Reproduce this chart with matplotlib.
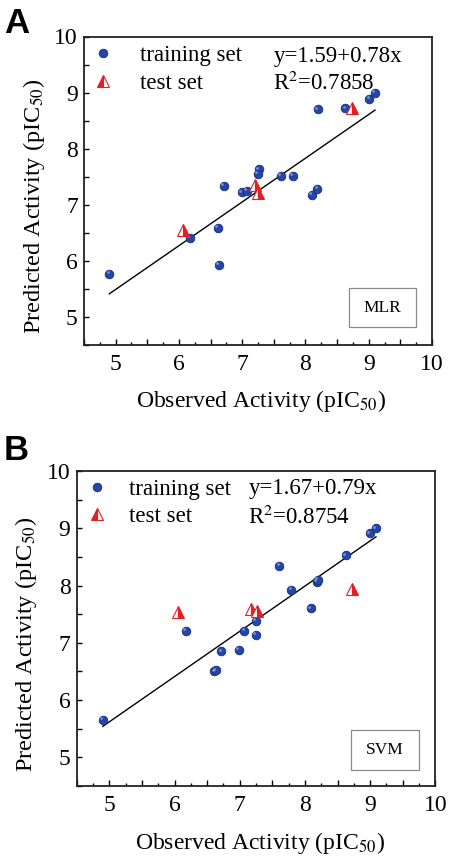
import matplotlib
matplotlib.use('Agg')
import matplotlib.pyplot as plt
import matplotlib.transforms as mtransforms
from matplotlib.ticker import MultipleLocator, FuncFormatter
from matplotlib.lines import Line2D
from matplotlib.patches import Rectangle
import numpy as np

plt.rcParams['font.family'] = 'serif'
plt.rcParams['font.serif'] = ['Liberation Serif', 'DejaVu Serif']
plt.rcParams['mathtext.fontset'] = 'stix'

# ---------------- data ----------------
mlr_train_obs = [4.90, 6.17, 6.62, 6.63, 6.71, 6.99, 7.07, 7.26, 7.25, 7.61, 7.80, 8.10, 8.19, 8.20, 8.63, 9.01, 9.10]
mlr_train_pred = [5.77, 6.41, 6.59, 5.93, 7.34, 7.22, 7.25, 7.63, 7.55, 7.51, 7.51, 7.18, 7.29, 8.70, 8.72, 8.89, 8.99]
mlr_test_obs = [6.06, 7.20, 7.25, 8.74]
mlr_test_pred = [6.55, 7.35, 7.21, 8.73]
mlr_fit = (1.59, 0.78)
mlr_texts = ['y=1.59+0.78x', 'R$^{2}$=0.7858']

svm_train_obs = [4.90, 6.17, 6.61, 6.63, 6.72, 6.99, 7.07, 7.25, 7.25, 7.61, 7.79, 8.09, 8.18, 8.20, 8.63, 9.00, 9.09]
svm_train_pred = [5.66, 7.21, 6.50, 6.52, 6.85, 6.88, 7.21, 7.38, 7.14, 8.34, 7.93, 7.60, 8.07, 8.10, 8.53, 8.91, 9.00]
svm_test_obs = [6.06, 7.18, 7.26, 8.73]
svm_test_pred = [7.54, 7.59, 7.55, 7.94]
svm_fit = (1.67, 0.79)
svm_texts = ['y=1.67+0.79x', 'R$^{2}$=0.8754']

legend_labels = ['training set', 'test set']
model_names = ['MLR', 'SVM']
panel_letters = ['A', 'B']
xlabel = 'Observed Activity (pIC$_{50}$)'
ylabel = 'Predicted Activity (pIC$_{50}$)'
tick_values = [5, 6, 7, 8, 9, 10]

BLUE = '#2546a6'
BLUE_EDGE = '#142f80'
HIGHLIGHT = '#8ea4e0'
RED = '#e31e24'

fig = plt.figure(figsize=(4.51, 8.65), dpi=100)
W, H = 451.0, 865.0

panels = [
    dict(rect=(84, 36.5, 432, 345), tr_x=mlr_train_obs, tr_y=mlr_train_pred,
         te_x=mlr_test_obs, te_y=mlr_test_pred, fit=mlr_fit, texts=mlr_texts,
         name=model_names[0], letter=panel_letters[0],
         leg_anchor=(0.022, 0.972), leg_pad=1.13, txt_x=0.544, txt_y=(0.936, 0.848),
         box=(0.7615, 0.0583, 0.1925, 0.1264), letter_pos=(4, 33)),
    dict(rect=(76.7, 471, 435.3, 786), tr_x=svm_train_obs, tr_y=svm_train_pred,
         te_x=svm_test_obs, te_y=svm_test_pred, fit=svm_fit, texts=svm_texts,
         name=model_names[1], letter=panel_letters[1],
         leg_anchor=(0.0254, 0.975), leg_pad=0.89, txt_x=0.4785, txt_y=(0.944, 0.853),
         box=(0.764, 0.0508, 0.191, 0.127), letter_pos=(4, 460)),
]

for p in panels:
    l, t, r, b = p['rect']
    ax = fig.add_axes([l / W, 1 - b / H, (r - l) / W, (b - t) / H])
    ax.set_xlim(4.5, 10)
    ax.set_ylim(4.5, 10)

    # regression line
    allx = list(p['tr_x']) + list(p['te_x'])
    xx = np.array([min(allx), max(allx)])
    a0, a1 = p['fit']
    ax.plot(xx, a0 + a1 * xx, color='black', lw=1.0, zorder=2)

    # training spheres
    ax.plot(p['tr_x'], p['tr_y'], 'o', ms=6.2, mfc=BLUE, mec=BLUE_EDGE, mew=0.6, zorder=3)
    off = mtransforms.ScaledTranslation(-1.2 / 72, 1.2 / 72, fig.dpi_scale_trans)
    ax.plot(p['tr_x'], p['tr_y'], 'o', ms=2.0, mfc=HIGHLIGHT, mec='none', alpha=0.8,
            transform=ax.transData + off, zorder=4)

    # test triangles (half filled)
    ax.plot(p['te_x'], p['te_y'], '^', ms=8.8, fillstyle='right', mfc=RED,
            mfcalt='white', mec=RED, mew=0.8, zorder=5)

    # ticks
    ax.xaxis.set_major_locator(MultipleLocator(0.5))
    ax.xaxis.set_minor_locator(MultipleLocator(0.25))
    ax.yaxis.set_major_locator(MultipleLocator(0.5))
    fmt = FuncFormatter(lambda v, pos: ('%d' % round(v)) if (abs(v - round(v)) < 1e-6 and round(v) in tick_values) else '')
    ax.xaxis.set_major_formatter(fmt)
    ax.yaxis.set_major_formatter(fmt)
    ax.tick_params(axis='x', which='major', direction='in', length=4.0, width=1.0, pad=6.5,
                   labelsize=17, top=False)
    ax.tick_params(axis='x', which='minor', direction='in', length=2.2, width=1.0, top=False)
    ax.tick_params(axis='y', which='major', direction='in', length=3.5, width=1.0, pad=4.5,
                   labelsize=17, right=False)
    for s in ax.spines.values():
        s.set_linewidth(1.3)
        s.set_color('#222222')

    ax.set_xlabel(xlabel, fontsize=17)
    ax.set_ylabel(ylabel, fontsize=17.5)
    ax.xaxis.set_label_coords(0.51, -0.14)
    ax.yaxis.set_label_coords(-0.106, 0.45)

    # legend
    h1 = Line2D([], [], ls='none', marker='o', ms=6.2, mfc=BLUE, mec=BLUE_EDGE, mew=0.6)
    h2 = Line2D([], [], ls='none', marker='^', ms=8.8, fillstyle='left', mfc=RED,
                mfcalt='white', mec=RED, mew=0.8)
    ax.legend([h1, h2], legend_labels, loc='upper left', bbox_to_anchor=p['leg_anchor'],
              frameon=False, fontsize=16.5, handlelength=1.0, handletextpad=p['leg_pad'],
              labelspacing=0.28, borderaxespad=0, borderpad=0)

    ax.text(p['txt_x'], p['txt_y'][0], p['texts'][0], transform=ax.transAxes, fontsize=16.5,
            ha='left', va='center')
    ax.text(p['txt_x'], p['txt_y'][1], p['texts'][1], transform=ax.transAxes, fontsize=16.5,
            ha='left', va='center')

    bx, by, bw, bh = p['box']
    ax.add_patch(Rectangle((bx, by), bw, bh, transform=ax.transAxes, fill=False,
                           ec='#8a8a8a', lw=0.9, zorder=6))
    ax.text(bx + bw / 2, by + bh / 2, p['name'], transform=ax.transAxes, fontsize=12.5,
            ha='center', va='center', zorder=7)

    lx, ly = p['letter_pos']
    fig.text(lx / W, 1 - ly / H, p['letter'], fontsize=25, fontweight='bold',
             family='Liberation Sans', ha='left', va='baseline')

fig.savefig('out.png', dpi=100)
